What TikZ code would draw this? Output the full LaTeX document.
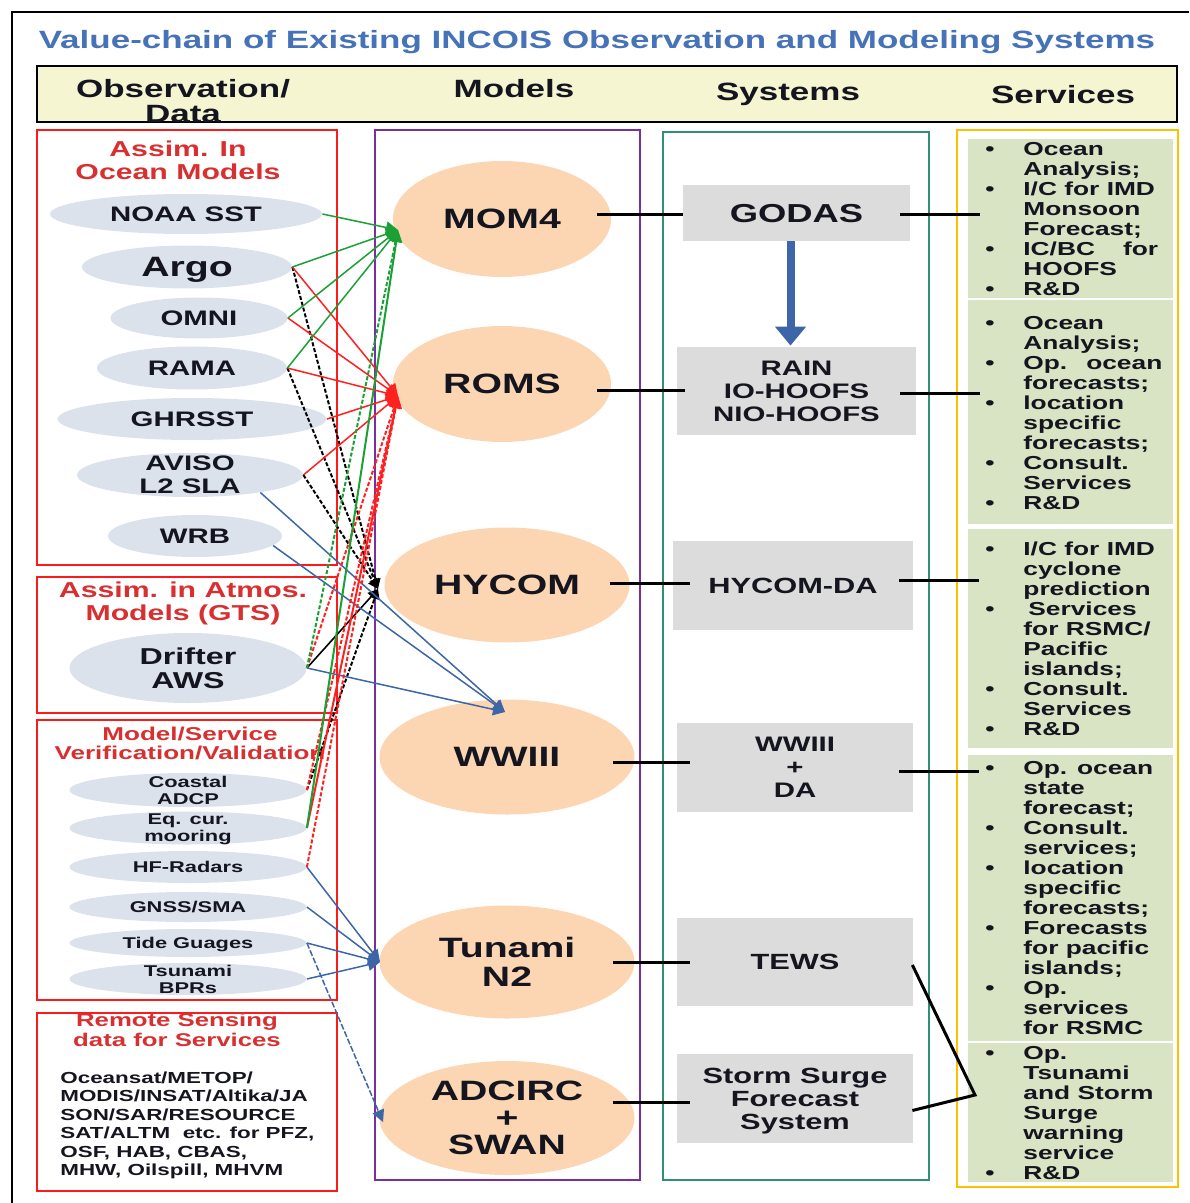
\documentclass[tikz,border=0pt]{standalone}
\usepackage{fontspec}
\setmainfont{Liberation Sans}[FakeStretch=1.4]
\usetikzlibrary{shapes.geometric,arrows.meta,calc}
\definecolor{titleblue}{HTML}{4672B8}
\definecolor{hdrfill}{HTML}{F5F5D2}
\definecolor{redc}{HTML}{FF1A1A}
\definecolor{redtxt}{HTML}{D83030}
\definecolor{obsfill}{HTML}{DCE2EC}
\definecolor{mdlfill}{HTML}{FCD6B3}
\definecolor{sysfill}{HTML}{DCDCDC}
\definecolor{svcfill}{HTML}{D9E4C5}
\definecolor{purp}{HTML}{7A2FA0}
\definecolor{tealc}{HTML}{2F9075}
\definecolor{orng}{HTML}{FFC000}
\definecolor{gcol}{HTML}{1BA035}
\definecolor{rcol}{HTML}{FF2020}
\definecolor{bcol}{HTML}{3D66A8}
\definecolor{txt}{HTML}{151520}
\newcommand\fz[2]{\fontsize{#1}{#2}\selectfont\bfseries}
\newcommand\bu{\makebox[19pt][l]{\textbullet}}
\newcommand\nb{\hspace*{19pt}}
\begin{document}
\begin{tikzpicture}[x=0.5pt,y=-0.5pt,
  hd/.style={font=\fz{12.5}{12.5}, align=center, text=txt, inner sep=0, text depth=0pt},
  rh/.style={align=center, text=redtxt, inner sep=0, text depth=0pt},
  obs/.style={ellipse, fill=obsfill, inner xsep=0pt, inner ysep=-9pt, align=center, text=txt, text depth=0pt, font=\fz{10.5}{11.5}},
  sml/.style={font=\fz{7.8}{8.5}},
  mdl/.style={ellipse, fill=mdlfill, inner xsep=0pt, inner ysep=-6pt, align=center, text=txt, text depth=0pt, font=\fz{14}{14.5}},
  sys/.style={rectangle, fill=sysfill, inner sep=0, align=center, text=txt, text depth=0pt},
  panel/.style={rectangle, fill=svcfill, inner sep=0, anchor=north west, minimum width=102.5pt},
  svc/.style={anchor=north west, inner sep=0, align=left, text=txt, font=\fz{9.4}{10}},
  redbox/.style={draw=redc, line width=1.2pt},
  blk/.style={draw=black, line width=1.5pt},
  gl/.style={draw=gcol, line width=0.75pt, -{Triangle[length=6pt,width=6pt]}},
  rl/.style={draw=rcol, line width=0.75pt, -{Triangle[length=6pt,width=6pt]}},
  kl/.style={draw=black, line width=0.8pt, -{Triangle[length=5pt,width=5pt]}},
  bl/.style={draw=bcol, line width=0.75pt, -{Triangle[length=6pt,width=6pt]}},
  dsh/.style={dash pattern=on 2pt off 1pt, line width=1pt}
]
\useasboundingbox (0,0) rectangle (1189,1203);
% outer frame
\draw[line width=0.9pt] (12,1203) -- (12,12) -- (1189,12);
% title
\node[font=\fz{12.5}{14}, text=titleblue, inner sep=0] (title) at (597,42) {Value-chain of Existing INCOIS Observation and Modeling Systems};
% header band
\node[draw=black, line width=1pt, fill=hdrfill, minimum width=570pt, minimum height=28pt, inner sep=0] (hdr) at (607,94) {};
\node[hd] (hobs) at (183,100.5) {Observation/\\Data};
\node[hd] (hmod) at (514,88) {Models};
\node[hd] (hsys) at (788,92) {Systems};
\node[hd] (hsvc) at (1063,94) {Services};
% column frames
\draw[redbox] (37,130) rectangle (337,565);
\draw[redbox] (37,577) rectangle (337,713);
\draw[redbox] (37,720) rectangle (337,1000);
\draw[redbox] (37,1013) rectangle (337,1191);
\draw[draw=purp, line width=1pt] (375,130) rectangle (640,1180);
\draw[draw=tealc, line width=1pt] (663,132) rectangle (929,1180);
\draw[draw=orng, line width=1.4pt] (957,130) rectangle (1178,1187);
% red headings
\node[rh, font=\fz{10.8}{11.5}] (h1) at (178,160.5) {Assim. In\\Ocean Models};
\node[rh, font=\fz{10.8}{11.5}] (h2) at (183,601.5) {Assim. in Atmos.\\Models (GTS)};
\node[rh, font=\fz{9.3}{9.5}] (h3) at (190,743.5) {Model/Service\\Verification/Validation};
\node[rh, font=\fz{9.2}{10}] (h4) at (177,1030) {Remote Sensing\\data for Services};
\node[anchor=north west, inner sep=0, align=left, text=txt, font=\fz{8}{9.2}] (rsbody) at (60,1071) {\rule{0pt}{6pt}Oceansat/METOP/\\MODIS/INSAT/Altika/JA\\SON/SAR/RESOURCE\\SAT/ALTM\ \ etc. for PFZ,\\OSF, HAB, CBAS,\\MHW, Oilspill, MHVM};
% observation ellipses
\node[obs, minimum width=136pt, minimum height=20pt] (noaa) at (186,214) {NOAA SST};
\node[obs, minimum width=105pt, minimum height=21.5pt, font=\fz{14}{14}] (argo) at (187,267) {Argo};
\node[obs, minimum width=88.5pt, minimum height=20.5pt] (omni) at (199,318) {OMNI};
\node[obs, minimum width=95pt, minimum height=21.5pt] (rama) at (192,368) {RAMA};
\node[obs, minimum width=134.5pt, minimum height=21pt] (ghrsst) at (192,419) {GHRSST};
\node[obs, minimum width=113pt, minimum height=22pt] (aviso) at (190,475) {AVISO\\L2 SLA};
\node[obs, minimum width=87pt, minimum height=21pt] (wrb) at (195,536) {WRB};
\node[obs, minimum width=118.5pt, minimum height=35pt, font=\fz{11.5}{12}] (drifter) at (188,668) {Drifter\\AWS};
\node[obs, sml, minimum width=118.5pt, minimum height=17pt] (adcp) at (188,790) {Coastal\\ADCP};
\node[obs, sml, minimum width=118.5pt, minimum height=16.5pt] (eqcur) at (188,828) {Eq. cur.\\mooring};
\node[obs, sml, minimum width=118.5pt, minimum height=16pt] (hf) at (188,867) {HF-Radars};
\node[obs, sml, minimum width=118.5pt, minimum height=15pt] (gnss) at (188,907) {GNSS/SMA};
\node[obs, sml, minimum width=118.5pt, minimum height=14pt] (tide) at (188,943) {Tide Guages};
\node[obs, sml, minimum width=118.5pt, minimum height=16pt] (bpr) at (188,979) {Tsunami\\BPRs};
% model ellipses
\node[mdl, minimum width=109pt, minimum height=58pt] (mom4) at (502,219) {MOM4};
\node[mdl, minimum width=109pt, minimum height=58pt] (roms) at (502,384) {ROMS};
\node[mdl, minimum width=122.5pt, minimum height=57.5pt] (hycom) at (507,585) {HYCOM};
\node[mdl, minimum width=127.5pt, minimum height=57.5pt] (wwiii) at (507,757) {WWIII};
\node[mdl, minimum width=127.5pt, minimum height=56.5pt] (tunami) at (507,962) {Tunami\\N2};
\node[mdl, minimum width=127.5pt, minimum height=57pt, font=\fz{14}{13.5}] (adcirc) at (507,1118) {ADCIRC\\+\\SWAN};
% system boxes
\node[sys, minimum width=113.5pt, minimum height=28pt, font=\fz{13}{13}] (godas) at (796.5,213) {GODAS};
\node[sys, minimum width=119.5pt, minimum height=44pt, font=\fz{10.5}{11.5}] (rain) at (796.5,391) {RAIN\\IO-HOOFS\\NIO-HOOFS};
\node[sys, minimum width=120pt, minimum height=44.5pt, font=\fz{11}{11.5}] (hycomda) at (793,585.5) {HYCOM-DA};
\node[sys, minimum width=118pt, minimum height=44.5pt, font=\fz{10.5}{11.5}] (wwda) at (795,767.5) {WWIII\\+\\DA};
\node[sys, minimum width=118pt, minimum height=44pt, font=\fz{11}{11.5}] (tews) at (795,962) {TEWS};
\node[sys, minimum width=118pt, minimum height=44.5pt, font=\fz{11}{11.5}] (storm) at (795,1098.5) {Storm Surge\\Forecast\\System};
% service panels
\node[panel, minimum height=79.5pt] (p1) at (968,139) {};
\node[panel, minimum height=112pt] (p2) at (968,300) {};
\node[panel, minimum height=109.5pt] (p3) at (968,529) {};
\node[panel, minimum height=143pt] (p4) at (968,755) {};
\node[panel, minimum height=69.5pt] (p5) at (968,1043) {};
\node[svc] (s1) at (985,140.7) {\rule{0pt}{7pt}\bu Ocean\\ \nb Analysis;\\ \bu I/C for IMD\\ \nb Monsoon\\ \nb Forecast;\\ \bu IC/BC\hspace*{14pt}for\\ \nb HOOFS\\ \bu R\&D};
\node[svc] (s2) at (985,314.7) {\rule{0pt}{7pt}\bu Ocean\\ \nb Analysis;\\ \bu Op.\hspace*{9.5pt}ocean\\ \nb forecasts;\\ \bu location\\ \nb specific\\ \nb forecasts;\\ \bu Consult.\\ \nb Services\\ \bu R\&D};
\node[svc] (s3) at (985,540.7) {\rule{0pt}{7pt}\bu I/C for IMD\\ \nb cyclone\\ \nb prediction\\ \bu\hspace*{2.5pt}Services\\ \nb for RSMC/\\ \nb Pacific\\ \nb islands;\\ \bu Consult.\\ \nb Services\\ \bu R\&D};
\node[svc] (s4) at (985,759.7) {\rule{0pt}{7pt}\bu Op. ocean\\ \nb state\\ \nb forecast;\\ \bu Consult.\\ \nb services;\\ \bu location\\ \nb specific\\ \nb forecasts;\\ \bu Forecasts\\ \nb for pacific\\ \nb islands;\\ \bu Op.\\ \nb services\\ \nb for RSMC};
\node[svc] (s5) at (985,1044.7) {\rule{0pt}{7pt}\bu Op.\\ \nb Tsunami\\ \nb and Storm\\ \nb Surge\\ \nb warning\\ \nb service\\ \bu R\&D};
% model -> system -> service links
\draw[blk] ($(mom4.east|-godas.west)+(-14,2)$) -- ($(godas.west)+(0,2)$);
\draw[blk] ($(godas.east)+(-10,2)$) -- ($(godas.east-|p1.west)+(12,2)$);
\draw[blk] ($(roms.east|-rain.west)+(-14,-1)$) -- ($(rain.west)+(8,-1)$);
\draw[blk] ($(rain.east)+(-16,2)$) -- ($(rain.east-|p2.west)+(12,2)$);
\draw[blk] ($(hycom.east|-hycomda.west)+(-20,-2)$) -- ($(hycomda.west)+(17,-2)$);
\draw[blk] ($(hycomda.east)+(-14,-5)$) -- ($(hycomda.east-|p3.west)+(11,-5)$);
\draw[blk] ($(wwiii.east|-wwda.west)+(-22,-5)$) -- ($(wwda.west)+(13,-5)$);
\draw[blk] ($(wwda.east)+(-14,4)$) -- ($(wwda.east-|p4.west)+(11,4)$);
\draw[blk] ($(tunami.east|-tews.west)+(-22,0)$) -- ($(tews.west)+(13,0)$);
\draw[blk] ($(adcirc.east|-storm.west)+(-22,4)$) -- ($(storm.west)+(13,4)$);
\coordinate (tS) at (975,1095);
\draw[blk] ($(tews.east)+(-1,3)$) -- (tS) -- ($(storm.east)+(-1,12)$);
\draw[draw=bcol, line width=4pt, -{Triangle[length=9.5pt,width=15pt]}] ($(godas.south)+(-6,0)$) -- ($(rain.north)+(-6,-1)$);
% observation -> model links
\coordinate (tM) at (398,230);
\coordinate (tR) at (398,396);
\coordinate (tH) at (378,589);
\coordinate (tW) at (505,712);
\coordinate (tT) at (380,962);
\coordinate (tA) at (383,1122);
% black to HYCOM
\draw[kl, dsh] (argo.east) -- (tH);
\draw[kl, dsh] (rama.east) -- (tH);
\draw[kl, dsh] (aviso.east) -- (tH);
\draw[kl, dsh] (adcp.east) -- (tH);
\draw[kl] (drifter.east) -- (tH);
% blue
\draw[bl] (aviso.-14) -- (tW);
\draw[bl] (wrb.-7) -- (tW);
\draw[bl] (drifter.east) -- (tW);
\draw[bl] (hf.east) -- (tT);
\draw[bl] (gnss.east) -- (tT);
\draw[bl] (tide.east) -- (tT);
\draw[bl] (bpr.east) -- (tT);
\draw[bl, dash pattern=on 3pt off 1pt] (tide.east) -- (tA);
% red to ROMS
\draw[rl] (argo.east) -- (tR);
\draw[rl] (omni.east) -- (tR);
\draw[rl] (rama.east) -- (tR);
\draw[rl] (ghrsst.east) -- (tR);
\draw[rl] (aviso.east) -- (tR);
\draw[rl, dsh] (drifter.east) -- (tR);
\draw[rl, dsh] (adcp.east) -- (tR);
\draw[rl, line width=1pt] (eqcur.east) -- (tR);
\draw[rl, dsh] (hf.east) -- (tR);
% green to MOM4
\draw[gl] (noaa.east) -- (tM);
\draw[gl] (argo.east) -- (tM);
\draw[gl] (omni.east) -- (tM);
\draw[gl] (rama.east) -- (tM);
\draw[gl, dsh] (drifter.east) -- (tM);
\draw[gl, line width=1pt] (eqcur.east) -- (tM);
\end{tikzpicture}
\end{document}
